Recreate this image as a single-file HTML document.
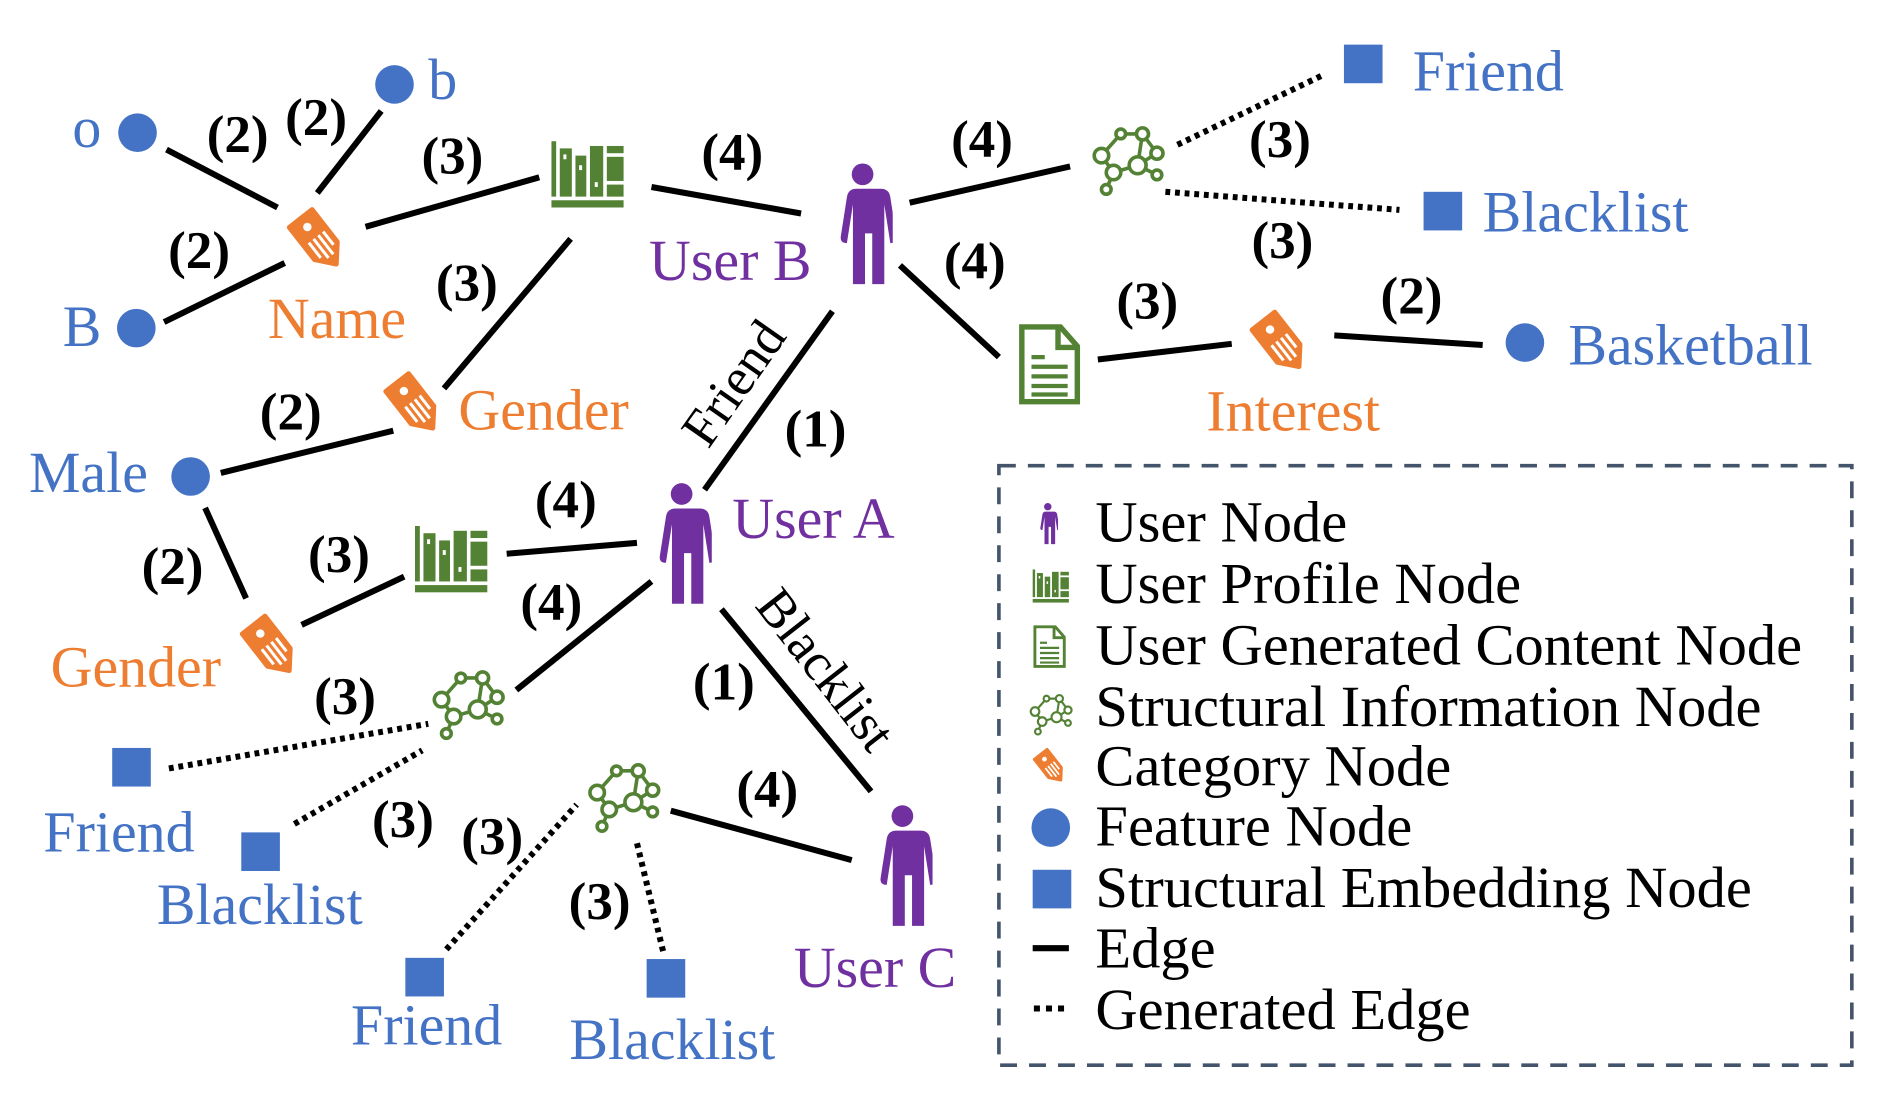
<!DOCTYPE html>
<html><head><meta charset="utf-8"><style>
html,body{margin:0;padding:0;background:#fff;}
svg{display:block;}
text{font-family:"Liberation Serif","DejaVu Serif",serif;}
.lbl{font-size:48px;}
.num{font-size:44px;font-weight:bold;fill:#000;}
.blue{fill:#4472C4;}
.org{fill:#ED7D31;}
.pur{fill:#7030A0;}
.e{stroke:#000;stroke-width:5;fill:none;}
.d{stroke:#000;stroke-width:5;fill:none;stroke-dasharray:4 4;}
.leg{font-size:48.5px;fill:#000;}
</style></head><body>
<svg width="1882" height="1102" viewBox="0 0 1560 913.5" preserveAspectRatio="none" xmlns="http://www.w3.org/2000/svg">
<defs>
<symbol id="person" viewBox="0 0 50 100">
<circle cx="25" cy="9" r="9" fill="#7030A0"/>
<path fill="#7030A0" d="M10,21 h30 q7,0 8,7 l5,32 q1,6 -5,6 l-5,-32 v66 h-10 v-42 h-6 v42 h-10 v-66 l-5,32 q-6,0 -5,-6 l5,-32 q1,-7 8,-7z"/>
</symbol>
<symbol id="books" viewBox="0 0 60 56">
<g fill="#548235">
<rect x="0" y="0" width="4" height="46"/>
<rect x="7" y="6" width="10" height="40"/><rect x="20" y="12" width="9" height="34"/>
<rect x="32" y="4" width="11" height="42"/><rect x="46" y="4" width="14" height="6"/><rect x="46" y="13" width="14" height="20"/><rect x="46" y="36" width="14" height="10"/>
<rect x="0" y="49" width="60" height="6"/>
</g>
<g fill="#fff"><rect x="10" y="11" width="2.5" height="4"/><rect x="23" y="20" width="2.5" height="4"/><rect x="36" y="34" width="2.5" height="4"/></g>
</symbol>
<symbol id="doc" viewBox="0 0 52 68">
<path d="M3,3 h32 l14,16 v46 h-46z" fill="none" stroke="#548235" stroke-width="4.5"/>
<path d="M33,3 v17 h16" fill="none" stroke="#548235" stroke-width="4.5"/>
<g stroke="#548235" stroke-width="3.5"><line x1="11" y1="28" x2="22" y2="28"/><line x1="11" y1="36" x2="41" y2="36"/><line x1="11" y1="44" x2="41" y2="44"/><line x1="11" y1="52" x2="41" y2="52"/><line x1="11" y1="59" x2="41" y2="59"/></g>
</symbol>
<symbol id="net" viewBox="0 0 64 64">
<g stroke="#548235" stroke-width="3" fill="none">
<polyline points="10,30 26,12 44,12 56,28 40,38 20,44 10,30"/>
<line x1="40" y1="38" x2="44" y2="12"/><line x1="20" y1="44" x2="14" y2="58"/><line x1="40" y1="38" x2="56" y2="46"/>
</g>
<g fill="#fff" stroke="#548235" stroke-width="3">
<circle cx="10" cy="30" r="6"/><circle cx="26" cy="12" r="4"/><circle cx="44" cy="12" r="5"/><circle cx="56" cy="28" r="5"/>
<circle cx="40" cy="38" r="7"/><circle cx="20" cy="44" r="6"/><circle cx="14" cy="58" r="4"/><circle cx="56" cy="46" r="4"/>
</g>
</symbol>
<symbol id="tag" viewBox="-30 -30 60 60">
<g transform="rotate(-38)">
<path d="M-12,-24 h24 v34 l-12,14 l-12,-14z" fill="#ED7D31" stroke="#ED7D31" stroke-width="4" stroke-linejoin="round"/>
<circle cx="0" cy="-15" r="3.5" fill="#fff"/>
<g stroke="#fff" stroke-width="2.5"><line x1="-7" y1="-4" x2="-7" y2="12"/><line x1="-2" y1="-4" x2="-2" y2="16"/><line x1="3" y1="-4" x2="3" y2="16"/><line x1="8" y1="-4" x2="8" y2="10"/></g>
</g>
</symbol>
</defs>

<g class="e">
<line x1="138" y1="124" x2="230" y2="172"/>
<line x1="316" y1="92" x2="263" y2="160"/>
<line x1="136" y1="267" x2="236" y2="218"/>
<line x1="303" y1="188" x2="447" y2="147"/>
<line x1="540" y1="155" x2="664" y2="177"/>
<line x1="473" y1="198" x2="368" y2="322"/>
<line x1="183" y1="392" x2="326" y2="357"/>
<line x1="170" y1="421" x2="204" y2="496"/>
<line x1="250" y1="518" x2="335" y2="478"/>
<line x1="420" y1="459" x2="528" y2="450"/>
<line x1="584" y1="406" x2="690" y2="258"/>
<line x1="428" y1="572" x2="540" y2="482"/>
<line x1="598" y1="505" x2="722" y2="656"/>
<line x1="556" y1="672" x2="706" y2="713"/>
<line x1="754" y1="168" x2="887" y2="138"/>
<line x1="746" y1="220" x2="828" y2="296"/>
<line x1="910" y1="298" x2="1021" y2="285"/>
<line x1="1106" y1="278" x2="1229" y2="286"/>
</g>
<g class="d">
<line x1="976" y1="120" x2="1095" y2="63"/>
<line x1="966" y1="159" x2="1160" y2="174"/>
<line x1="140" y1="637" x2="355" y2="600"/>
<line x1="244" y1="683" x2="350" y2="622"/>
<line x1="370" y1="787" x2="478" y2="667"/>
<line x1="528" y1="699" x2="550" y2="790"/>
</g>

<g class="blue">
<circle cx="114" cy="110" r="16"/><circle cx="327" cy="70" r="16"/><circle cx="113" cy="272" r="16"/><circle cx="158" cy="395" r="16"/><circle cx="1264" cy="284" r="16"/>
<rect x="1114" y="37" width="32" height="32"/><rect x="1180" y="159" width="32" height="32"/>
<rect x="93" y="620" width="32" height="32"/><rect x="200" y="690" width="32" height="32"/>
<rect x="336" y="794" width="32" height="32"/><rect x="536" y="795" width="32" height="32"/>
</g>
<g class="lbl blue">
<text x="60" y="122">o</text><text x="355" y="82">b</text><text x="52" y="287">B</text><text x="24" y="408">Male</text>
<text x="1300" y="302">Basketball</text><text x="1171" y="75">Friend</text><text x="1229" y="192">Blacklist</text>
<text x="36" y="706">Friend</text><text x="130" y="766">Blacklist</text><text x="291" y="866">Friend</text><text x="472" y="878">Blacklist</text>
</g>

<use href="#tag" x="234" y="170" width="60" height="60"/>
<use href="#tag" x="314" y="306" width="60" height="60"/>
<use href="#tag" x="195" y="507" width="60" height="60"/>
<use href="#tag" x="1032" y="255" width="60" height="60"/>
<g class="lbl org">
<text x="222" y="280">Name</text><text x="380" y="356">Gender</text><text x="42" y="569">Gender</text><text x="1000" y="357">Interest</text>
</g>

<use href="#books" x="457" y="117" width="60" height="56"/>
<use href="#books" x="344" y="436" width="60" height="56"/>
<use href="#doc" x="843" y="268" width="54" height="68"/>
<use href="#net" x="903" y="99" width="64" height="64"/>
<use href="#net" x="356" y="550" width="64" height="64"/>
<use href="#net" x="485" y="627" width="64" height="64"/>

<use href="#person" x="690" y="135" width="50" height="101"/>
<use href="#person" x="540" y="400" width="50" height="101"/>
<use href="#person" x="723" y="667" width="50" height="101"/>
<g class="lbl pur">
<text x="538" y="232">User B</text><text x="607" y="446">User A</text><text x="658" y="818">User C</text>
</g>

<g class="num" text-anchor="middle">
<text x="197" y="126">(2)</text><text x="262" y="112">(2)</text><text x="375" y="144">(3)</text><text x="607" y="141">(4)</text>
<text x="165" y="222">(2)</text><text x="387" y="249">(3)</text><text x="241" y="356">(2)</text><text x="143" y="484">(2)</text>
<text x="281" y="474">(3)</text><text x="469" y="429">(4)</text><text x="457" y="514">(4)</text><text x="286" y="592">(3)</text>
<text x="676" y="370">(1)</text><text x="600" y="580">(1)</text><text x="636" y="669">(4)</text><text x="334" y="694">(3)</text>
<text x="408" y="708">(3)</text><text x="497" y="762">(3)</text><text x="814" y="130">(4)</text><text x="808" y="231">(4)</text>
<text x="1061" y="130">(3)</text><text x="1063" y="214">(3)</text><text x="951" y="264">(3)</text><text x="1170" y="260">(2)</text>
</g>
<text x="0" y="0" font-size="44" text-anchor="middle" transform="translate(620,326) rotate(-55)">Friend</text>
<text x="0" y="0" font-size="44" text-anchor="middle" transform="translate(673,564) rotate(52)">Blacklist</text>

<rect x="828" y="386" width="707" height="497" fill="none" stroke="#44546A" stroke-width="3" stroke-dasharray="14 10"/>
<use href="#person" x="860" y="416" width="17" height="36"/>
<use href="#books" x="855" y="472" width="32" height="28"/>
<use href="#doc" x="856" y="518" width="28" height="36"/>
<use href="#net" x="852" y="572" width="38" height="38"/>
<use href="#tag" x="854" y="619" width="34" height="34"/>
<circle cx="871" cy="686" r="16" class="blue"/>
<rect x="856" y="721" width="32" height="32" class="blue"/>
<line x1="856" y1="786" x2="886" y2="786" stroke="#000" stroke-width="5"/>
<line x1="857" y1="836" x2="887" y2="836" stroke="#000" stroke-width="5" stroke-dasharray="5 5"/>
<g class="leg">
<text x="908" y="449">User Node</text>
<text x="908" y="500">User Profile Node</text>
<text x="908" y="551">User Generated Content Node</text>
<text x="908" y="602">Structural Information Node</text>
<text x="908" y="651">Category Node</text>
<text x="908" y="701">Feature Node</text>
<text x="908" y="752">Structural Embedding Node</text>
<text x="908" y="802">Edge</text>
<text x="908" y="853">Generated Edge</text>
</g>
</svg>
</body></html>
